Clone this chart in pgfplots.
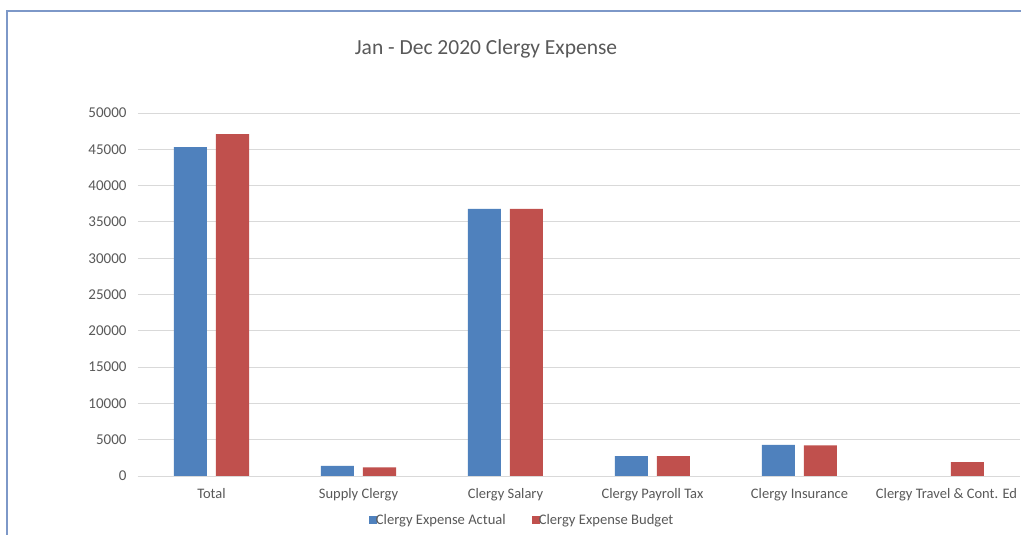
\documentclass[border=0pt]{standalone}
\usepackage{pgfplots}
\pgfplotsset{compat=1.18}
\usepackage{fontspec}
\setmainfont{Carlito}
\definecolor{xblue}{RGB}{79,129,189}
\definecolor{xred}{RGB}{192,80,77}
\definecolor{txt}{RGB}{89,89,89}
\definecolor{gridc}{RGB}{217,217,217}
\definecolor{framec}{RGB}{125,152,200}
\begin{document}
\begin{tikzpicture}[x=1pt,y=1pt]
\useasboundingbox (0,0) rectangle (1021,535);
\fill[white] (0,0) rectangle (1021,535);
\draw[framec, line width=1.3pt] (7,-5) -- (7,524) -- (1030,524);
\node[txt, font=\fontsize{21.5}{26}\selectfont] at (486,486) {Jan - Dec 2020 Clergy Expense};
\begin{axis}[
  at={(138pt,59pt)}, anchor=south west,
  scale only axis, width=882pt, height=363pt,
  xmin=-0.5, xmax=5.5, ymin=0, ymax=50000,
  ytick={0,5000,...,50000},
  scaled y ticks=false,
  /pgf/number format/fixed,
  /pgf/number format/1000 sep={},
  /pgf/number format/assume math mode=true,
  ymajorgrids, grid style={gridc, line width=0.9pt},
  axis x line*=bottom, axis y line*=left,
  y axis line style={draw=none},
  x axis line style={draw=gridc, line width=0.9pt, -},
  major tick length=0pt,
  xtick={0,1,2,3,4,5},
  xticklabels={Total, Supply Clergy, Clergy Salary, Clergy Payroll Tax, Clergy Insurance, Clergy Travel \& Cont. Ed},
  tick label style={txt},
  xticklabel style={font=\fontsize{14.5}{17}\selectfont, text height=10pt, text depth=3pt, yshift=-9pt},
  yticklabel style={font=\fontsize{15}{18}\selectfont, xshift=-8pt},
  ybar=9pt, bar width=33pt,
  legend columns=2,
  legend style={at={(0.4355,-0.121)}, anchor=center, draw=none, fill=none,
    font=\fontsize{14.6}{17}\selectfont, text=txt,
    /tikz/every odd column/.append style={column sep=-3pt},
    /tikz/every even column/.append style={column sep=12pt}},
]
\addplot[fill=xblue, draw=none, legend image code/.code={\fill[xblue] (0pt,-4pt) rectangle (8pt,4pt);}]
  coordinates {(0,45300) (1,1400) (2,36800) (3,2750) (4,4300)};
\addlegendentry{Clergy Expense Actual\rule{12pt}{0pt}}
\addplot[fill=xred, draw=none, legend image code/.code={\fill[xred] (0pt,-4pt) rectangle (8pt,4pt);}]
  coordinates {(0,47100) (1,1200) (2,36800) (3,2750) (4,4220) (5,1900)};
\addlegendentry{Clergy Expense Budget}
\end{axis}
\end{tikzpicture}
\end{document}
